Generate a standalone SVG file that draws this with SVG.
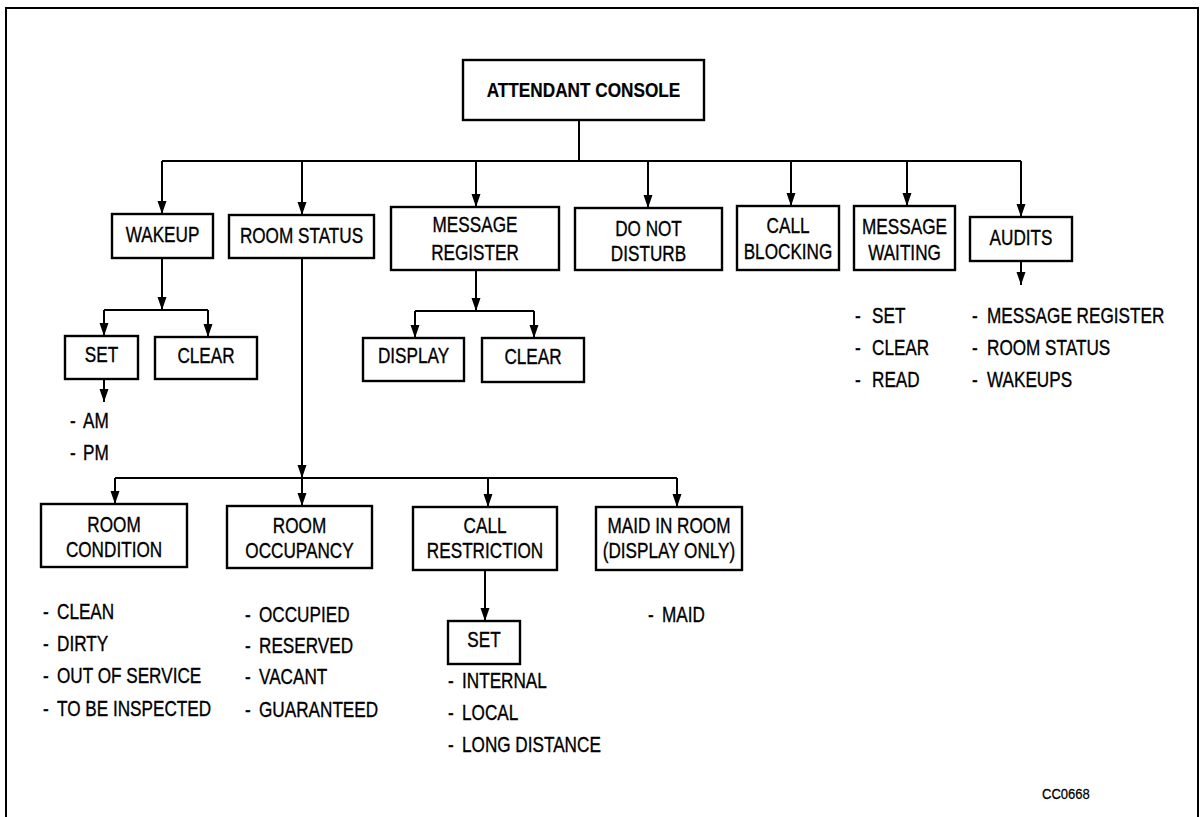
<svg xmlns="http://www.w3.org/2000/svg" width="1203" height="817" viewBox="0 0 1203 817">
  <style>
    .box { fill: #fff; stroke: #000; stroke-width: 2.4; }
    .ln { fill: none; stroke: #000; stroke-width: 2; }
    .t { font-family: "Liberation Sans", Arial, sans-serif; font-size: 22px; fill: #000; stroke: #000; stroke-width: 0.35; }
    .c { text-anchor: middle; }
    .b { font-weight: bold; font-size: 20px; stroke-width: 0.2; }
    .tag { font-size: 15px; stroke-width: 0.25; }
  </style>
  <defs>
    <marker id="arr" markerUnits="userSpaceOnUse" markerWidth="10" markerHeight="13" refX="5" refY="13" orient="0" viewBox="0 0 10 13">
      <path d="M0.5,0 L9.5,0 L5,13 Z" fill="#000"/>
    </marker>
  </defs>
  <rect width="1203" height="817" fill="#fff"/>
  <!-- outer frame -->
  <rect x="6" y="8" width="1192" height="830" fill="none" stroke="#000" stroke-width="2"/>

  <!-- connectors -->
  <g id="connectors">
    <path class="ln" d="M579,120 V161 M162,161 H1021"/>
    <path class="ln" d="M162,161 V214" marker-end="url(#arr)"/>
    <path class="ln" d="M302,161 V215" marker-end="url(#arr)"/>
    <path class="ln" d="M476,161 V207" marker-end="url(#arr)"/>
    <path class="ln" d="M648,161 V208" marker-end="url(#arr)"/>
    <path class="ln" d="M791,161 V206" marker-end="url(#arr)"/>
    <path class="ln" d="M907,161 V206" marker-end="url(#arr)"/>
    <path class="ln" d="M1021,161 V217" marker-end="url(#arr)"/>
    <!-- wakeup branch -->
    <path class="ln" d="M162,258 V310" marker-end="url(#arr)"/>
    <path class="ln" d="M104,310 H208"/>
    <path class="ln" d="M104,310 V336" marker-end="url(#arr)"/>
    <path class="ln" d="M208,310 V337" marker-end="url(#arr)"/>
    <path class="ln" d="M104,379 V402" marker-end="url(#arr)"/>
    <!-- message register branch -->
    <path class="ln" d="M476,270 V311" marker-end="url(#arr)"/>
    <path class="ln" d="M415,311 H534"/>
    <path class="ln" d="M415,311 V338" marker-end="url(#arr)"/>
    <path class="ln" d="M534,311 V338" marker-end="url(#arr)"/>
    <!-- audits -->
    <path class="ln" d="M1021,261 V285" marker-end="url(#arr)"/>
    <!-- room status branch -->
    <path class="ln" d="M302,258 V478" marker-end="url(#arr)"/>
    <path class="ln" d="M115,478 H677"/>
    <path class="ln" d="M115,478 V504" marker-end="url(#arr)"/>
    <path class="ln" d="M302,478 V506" marker-end="url(#arr)"/>
    <path class="ln" d="M488,478 V507" marker-end="url(#arr)"/>
    <path class="ln" d="M677,478 V507" marker-end="url(#arr)"/>
    <path class="ln" d="M485,570 V621" marker-end="url(#arr)"/>
  </g>

  <g id="attendant-console">
    <rect class="box" x="463" y="60" width="241" height="60"/>
    <text class="t c b" transform="translate(583.5,97) scale(0.86,1)">ATTENDANT CONSOLE</text>
  </g>

  <g id="wakeup">
    <rect class="box" x="112" y="214" width="101" height="44"/>
    <text class="t c" transform="translate(162.5,241.5) scale(0.78,1)">WAKEUP</text>
  </g>
  <g id="room-status">
    <rect class="box" x="229" y="215" width="145" height="43"/>
    <text class="t c" transform="translate(301.5,243) scale(0.78,1)">ROOM STATUS</text>
  </g>
  <g id="message-register">
    <rect class="box" x="391" y="207" width="168" height="63"/>
    <text class="t c" transform="translate(475,232) scale(0.78,1)">MESSAGE</text>
    <text class="t c" transform="translate(475,259.5) scale(0.78,1)">REGISTER</text>
  </g>
  <g id="do-not-disturb">
    <rect class="box" x="575" y="208" width="147" height="62"/>
    <text class="t c" transform="translate(648.5,235.5) scale(0.78,1)">DO NOT</text>
    <text class="t c" transform="translate(648.5,261) scale(0.78,1)">DISTURB</text>
  </g>
  <g id="call-blocking">
    <rect class="box" x="737" y="206" width="102" height="64"/>
    <text class="t c" transform="translate(788,233) scale(0.78,1)">CALL</text>
    <text class="t c" transform="translate(788,259) scale(0.78,1)">BLOCKING</text>
  </g>
  <g id="message-waiting">
    <rect class="box" x="854" y="206" width="101" height="64"/>
    <text class="t c" transform="translate(904.5,233.5) scale(0.78,1)">MESSAGE</text>
    <text class="t c" transform="translate(904.5,259.5) scale(0.78,1)">WAITING</text>
  </g>
  <g id="audits">
    <rect class="box" x="970" y="217" width="102" height="44"/>
    <text class="t c" transform="translate(1021,245) scale(0.78,1)">AUDITS</text>
  </g>

  <g id="wakeup-set">
    <rect class="box" x="65" y="336" width="73" height="43"/>
    <text class="t c" transform="translate(101.5,362) scale(0.78,1)">SET</text>
  </g>
  <g id="wakeup-clear">
    <rect class="box" x="155" y="337" width="102" height="42"/>
    <text class="t c" transform="translate(206,362.5) scale(0.78,1)">CLEAR</text>
  </g>
  <g id="wakeup-set-items">
    <text class="t" transform="translate(70,428) scale(0.78,1)">-</text>
    <text class="t" transform="translate(83,428) scale(0.78,1)">AM</text>
    <text class="t" transform="translate(70,460) scale(0.78,1)">-</text>
    <text class="t" transform="translate(83,460) scale(0.78,1)">PM</text>
  </g>

  <g id="register-display">
    <rect class="box" x="363" y="338" width="101" height="43"/>
    <text class="t c" transform="translate(413.5,363) scale(0.78,1)">DISPLAY</text>
  </g>
  <g id="register-clear">
    <rect class="box" x="482" y="338" width="102" height="44"/>
    <text class="t c" transform="translate(533,364) scale(0.78,1)">CLEAR</text>
  </g>

  <g id="message-waiting-items">
    <text class="t" transform="translate(855,323) scale(0.78,1)">-</text>
    <text class="t" transform="translate(872,323) scale(0.78,1)">SET</text>
    <text class="t" transform="translate(855,355) scale(0.78,1)">-</text>
    <text class="t" transform="translate(872,355) scale(0.78,1)">CLEAR</text>
    <text class="t" transform="translate(855,387) scale(0.78,1)">-</text>
    <text class="t" transform="translate(872,387) scale(0.78,1)">READ</text>
  </g>
  <g id="audits-items">
    <text class="t" transform="translate(972,323) scale(0.78,1)">-</text>
    <text class="t" transform="translate(987,323) scale(0.78,1)">MESSAGE REGISTER</text>
    <text class="t" transform="translate(972,355) scale(0.78,1)">-</text>
    <text class="t" transform="translate(987,355) scale(0.78,1)">ROOM STATUS</text>
    <text class="t" transform="translate(972,387) scale(0.78,1)">-</text>
    <text class="t" transform="translate(987,387) scale(0.78,1)">WAKEUPS</text>
  </g>

  <g id="room-condition">
    <rect class="box" x="41" y="504" width="146" height="63"/>
    <text class="t c" transform="translate(114,532) scale(0.78,1)">ROOM</text>
    <text class="t c" transform="translate(114,557) scale(0.78,1)">CONDITION</text>
  </g>
  <g id="room-occupancy">
    <rect class="box" x="227" y="506" width="145" height="62"/>
    <text class="t c" transform="translate(299.5,533) scale(0.78,1)">ROOM</text>
    <text class="t c" transform="translate(299.5,558) scale(0.78,1)">OCCUPANCY</text>
  </g>
  <g id="call-restriction">
    <rect class="box" x="413" y="507" width="144" height="63"/>
    <text class="t c" transform="translate(485,533) scale(0.78,1)">CALL</text>
    <text class="t c" transform="translate(485,558) scale(0.78,1)">RESTRICTION</text>
  </g>
  <g id="maid-in-room">
    <rect class="box" x="596" y="507" width="146" height="63"/>
    <text class="t c" transform="translate(669,533) scale(0.78,1)">MAID IN ROOM</text>
    <text class="t c" transform="translate(669,558) scale(0.78,1)">(DISPLAY ONLY)</text>
  </g>
  <g id="restriction-set">
    <rect class="box" x="448" y="621" width="72" height="43"/>
    <text class="t c" transform="translate(484,647) scale(0.78,1)">SET</text>
  </g>

  <g id="room-condition-items">
    <text class="t" transform="translate(43,619) scale(0.78,1)">-</text>
    <text class="t" transform="translate(57,619) scale(0.78,1)">CLEAN</text>
    <text class="t" transform="translate(43,651) scale(0.78,1)">-</text>
    <text class="t" transform="translate(57,651) scale(0.78,1)">DIRTY</text>
    <text class="t" transform="translate(43,683) scale(0.78,1)">-</text>
    <text class="t" transform="translate(57,683) scale(0.78,1)">OUT OF SERVICE</text>
    <text class="t" transform="translate(43,716) scale(0.78,1)">-</text>
    <text class="t" transform="translate(57,716) scale(0.78,1)">TO BE INSPECTED</text>
  </g>
  <g id="room-occupancy-items">
    <text class="t" transform="translate(245,622) scale(0.78,1)">-</text>
    <text class="t" transform="translate(259,622) scale(0.78,1)">OCCUPIED</text>
    <text class="t" transform="translate(245,653) scale(0.78,1)">-</text>
    <text class="t" transform="translate(259,653) scale(0.78,1)">RESERVED</text>
    <text class="t" transform="translate(245,684) scale(0.78,1)">-</text>
    <text class="t" transform="translate(259,684) scale(0.78,1)">VACANT</text>
    <text class="t" transform="translate(245,717) scale(0.78,1)">-</text>
    <text class="t" transform="translate(259,717) scale(0.78,1)">GUARANTEED</text>
  </g>
  <g id="restriction-set-items">
    <text class="t" transform="translate(448,688) scale(0.78,1)">-</text>
    <text class="t" transform="translate(462,688) scale(0.78,1)">INTERNAL</text>
    <text class="t" transform="translate(448,720) scale(0.78,1)">-</text>
    <text class="t" transform="translate(462,720) scale(0.78,1)">LOCAL</text>
    <text class="t" transform="translate(448,752) scale(0.78,1)">-</text>
    <text class="t" transform="translate(462,752) scale(0.78,1)">LONG DISTANCE</text>
  </g>
  <g id="maid-items">
    <text class="t" transform="translate(648,622) scale(0.78,1)">-</text>
    <text class="t" transform="translate(662,622) scale(0.78,1)">MAID</text>
  </g>

  <text class="t tag" transform="translate(1042,799) scale(0.87,1)">CC0668</text>
</svg>
